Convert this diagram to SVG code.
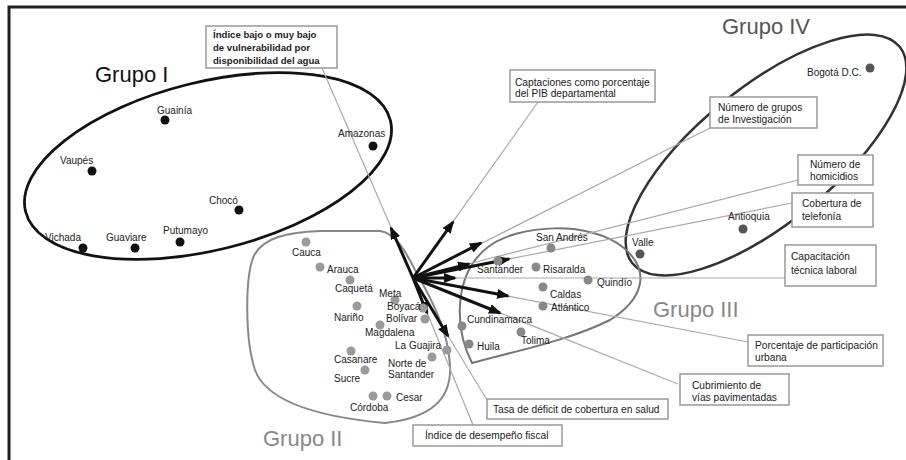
<svg xmlns="http://www.w3.org/2000/svg" width="906" height="460" viewBox="0 0 906 460">
<defs>
<marker id="ah" viewBox="0 0 13 10" markerWidth="13" markerHeight="10" refX="11" refY="5" orient="auto" markerUnits="userSpaceOnUse">
<path d="M0,0 L13,5 L0,10 z" fill="#111"/>
</marker>
<style>
text{font-family:"Liberation Sans",Arial,sans-serif;}
.lbl{font-size:10px;fill:#222;}
.bt{font-size:10.2px;fill:#222;}
.bx{fill:#fff;stroke:#999;stroke-width:1.5;}
.ld{stroke:#aaa;stroke-width:1.2;fill:none;}
.ar{stroke:#111;stroke-width:3;marker-end:url(#ah);}
.g1{fill:#111;}
.g2{fill:#9a9a9a;}
.g3{fill:#888;}
.g4{fill:#555;}
.grp{font-size:22px;}
</style>
</defs>
<rect width="906" height="460" fill="#fff"/>
<path d="M9,460 L9,7 L906,7" fill="none" stroke="#222" stroke-width="3"/>

<!-- group outlines -->
<g id="grupo1">
<ellipse cx="208" cy="166" rx="188" ry="84" transform="rotate(-14 208 166)" fill="none" stroke="#111" stroke-width="2.8"/>
<text class="grp" x="95" y="82" fill="#111">Grupo I</text>
</g>
<g id="grupo4">
<ellipse cx="766" cy="155" rx="172" ry="68" transform="rotate(-39 766 155)" fill="none" stroke="#333" stroke-width="2.5"/>
<text class="grp" x="722" y="34" fill="#555">Grupo IV</text>
</g>
<g id="grupo3">
<path d="M472,363 C455,330 452,275 488,247 C518,224 590,220 624,248 C652,272 642,300 610,320 C570,340 520,350 472,363 Z" fill="none" stroke="#777" stroke-width="2"/>
<text class="grp" x="653" y="317" fill="#888">Grupo III</text>
</g>
<g id="grupo2">
<path d="M385,423 C330,418 268,405 255,370 C245,340 245,280 253,258 C261,237 290,232 320,231 L380,231 C395,233 405,250 415,270 C432,300 448,330 450,365 C452,400 430,418 385,423 Z" fill="none" stroke="#888" stroke-width="2"/>
<text class="grp" x="263" y="446" fill="#888">Grupo II</text>
</g>

<!-- connectors -->
<g id="connectors">
<line class="ld" x1="413" y1="278" x2="322" y2="68"/>
<line class="ld" x1="413" y1="278" x2="538" y2="102"/>
<line class="ld" x1="413" y1="278" x2="710" y2="128"/>
<line class="ld" x1="413" y1="278" x2="798" y2="180"/>
<line class="ld" x1="413" y1="278" x2="792" y2="203"/>
<line class="ld" x1="413" y1="278" x2="785" y2="278"/>
<line class="ld" x1="413" y1="278" x2="748" y2="342"/>
<line class="ld" x1="413" y1="278" x2="678" y2="384"/>
<line class="ld" x1="413" y1="278" x2="487" y2="400"/>
<line class="ld" x1="413" y1="278" x2="473" y2="425"/>
<line class="ar" x1="413" y1="278" x2="391" y2="228"/>
<line class="ar" x1="413" y1="278" x2="453" y2="222"/>
<line class="ar" x1="413" y1="278" x2="481" y2="243"/>
<line class="ar" x1="413" y1="278" x2="469" y2="264"/>
<line class="ar" x1="413" y1="278" x2="509" y2="259"/>
<line class="ar" x1="413" y1="278" x2="455" y2="278"/>
<line class="ar" x1="413" y1="278" x2="508" y2="296"/>
<line class="ar" x1="413" y1="278" x2="500" y2="313"/>
<line class="ar" x1="413" y1="278" x2="448" y2="336"/>
<line class="ar" x1="413" y1="278" x2="427" y2="313"/>
</g>

<!-- Grupo I points -->
<g id="guainia"><circle class="g1" cx="165" cy="120" r="4.5"/><text class="lbl" x="157" y="114">Guainía</text></g>
<g id="amazonas"><circle class="g1" cx="373" cy="146" r="4.5"/><text class="lbl" x="338" y="137">Amazonas</text></g>
<g id="vaupes"><circle class="g1" cx="92" cy="171" r="4.5"/><text class="lbl" x="60" y="164">Vaupés</text></g>
<g id="choco"><circle class="g1" cx="239" cy="210" r="4.5"/><text class="lbl" x="209" y="204">Chocó</text></g>
<g id="vichada"><circle class="g1" cx="83" cy="248" r="4.5"/><text class="lbl" x="45" y="241">Vichada</text></g>
<g id="guaviare"><circle class="g1" cx="135" cy="248" r="4.5"/><text class="lbl" x="106" y="241">Guaviare</text></g>
<g id="putumayo"><circle class="g1" cx="180" cy="242" r="4.5"/><text class="lbl" x="163" y="234">Putumayo</text></g>

<!-- Grupo IV points -->
<g id="bogota"><circle class="g4" cx="870" cy="68" r="4.5"/><text class="lbl" x="807" y="76">Bogotá D.C.</text></g>
<g id="antioquia"><circle class="g4" cx="743" cy="229" r="4.5"/><text class="lbl" x="728" y="220">Antioquia</text></g>
<g id="valle"><circle class="g4" cx="640" cy="254" r="4.5"/><text class="lbl" x="632" y="246">Valle</text></g>

<!-- Grupo III points -->
<g id="sanandres"><circle class="g3" cx="551" cy="248" r="4.5"/><text class="lbl" x="536" y="241">San Andrés</text></g>
<g id="santander"><circle class="g3" cx="498" cy="261" r="4.5"/><text class="lbl" x="477" y="273">Santander</text></g>
<g id="risaralda"><circle class="g3" cx="536" cy="267" r="4.5"/><text class="lbl" x="543" y="273">Risaralda</text></g>
<g id="quindio"><circle class="g3" cx="588" cy="280" r="4.5"/><text class="lbl" x="597" y="286">Quindío</text></g>
<g id="caldas"><circle class="g3" cx="543" cy="287" r="4.5"/><text class="lbl" x="550" y="298">Caldas</text></g>
<g id="atlantico"><circle class="g3" cx="543" cy="306" r="4.5"/><text class="lbl" x="551" y="311">Atlántico</text></g>
<g id="cundinamarca"><circle class="g3" cx="462" cy="326" r="4.5"/><text class="lbl" x="467" y="323">Cundinamarca</text></g>
<g id="tolima"><circle class="g3" cx="521" cy="332" r="4.5"/><text class="lbl" x="521" y="344">Tolima</text></g>
<g id="huila"><circle class="g3" cx="469" cy="344" r="4.5"/><text class="lbl" x="477" y="350">Huila</text></g>

<!-- Grupo II points -->
<g id="cauca"><circle class="g2" cx="306" cy="242" r="4.5"/><text class="lbl" x="292" y="256">Cauca</text></g>
<g id="arauca"><circle class="g2" cx="320" cy="267" r="4.5"/><text class="lbl" x="327" y="273">Arauca</text></g>
<g id="caqueta"><circle class="g2" cx="350" cy="280" r="4.5"/><text class="lbl" x="335" y="292">Caquetá</text></g>
<g id="meta"><circle class="g2" cx="395" cy="300" r="4.5"/><text class="lbl" x="379" y="297">Meta</text></g>
<g id="boyaca"><circle class="g2" cx="423" cy="308" r="4.5"/><text class="lbl" x="387" y="310">Boyacá</text></g>
<g id="narino"><circle class="g2" cx="357" cy="306" r="4.5"/><text class="lbl" x="334" y="321">Nariño</text></g>
<g id="bolivar"><circle class="g2" cx="425" cy="319" r="4.5"/><text class="lbl" x="386" y="322">Bolívar</text></g>
<g id="magdalena"><circle class="g2" cx="380" cy="325" r="4.5"/><text class="lbl" x="365" y="336">Magdalena</text></g>
<g id="laguajira"><circle class="g2" cx="447" cy="350" r="4.5"/><text class="lbl" x="395" y="349">La Guajira</text></g>
<g id="casanare"><circle class="g2" cx="351" cy="351" r="4.5"/><text class="lbl" x="334" y="363">Casanare</text></g>
<g id="nortesantander"><circle class="g2" cx="432" cy="357" r="4.5"/><text class="lbl" x="388" y="367">Norte de</text><text class="lbl" x="388" y="378">Santander</text></g>
<g id="sucre"><circle class="g2" cx="365" cy="370" r="4.5"/><text class="lbl" x="334" y="382">Sucre</text></g>
<g id="cordoba"><circle class="g2" cx="373" cy="396" r="4.5"/><text class="lbl" x="350" y="411">Córdoba</text></g>
<g id="cesar"><circle class="g2" cx="387" cy="396" r="4.5"/><text class="lbl" x="396" y="401">Cesar</text></g>

<!-- label boxes -->
<g id="box-indice-bajo"><rect class="bx" x="206" y="26" width="131" height="42"/>
<text class="bt" x="213" y="38" font-weight="bold" style="font-size:9.6px">Índice bajo o muy bajo</text>
<text class="bt" x="213" y="51" font-weight="bold" style="font-size:9.6px">de vulnerabilidad por</text>
<text class="bt" x="213" y="64" font-weight="bold" style="font-size:9.6px">disponibilidad del agua</text></g>
<g id="box-captaciones"><rect class="bx" x="510" y="70" width="145" height="32"/>
<text class="bt" x="515" y="86">Captaciones como porcentaje</text>
<text class="bt" x="515" y="97">del PIB departamental</text></g>
<g id="box-grupos"><rect class="bx" x="710" y="97" width="107" height="31"/>
<text class="bt" x="718" y="111">Número de grupos</text>
<text class="bt" x="718" y="123">de Investigación</text></g>
<g id="box-homicidios"><rect class="bx" x="798" y="155" width="75" height="30"/>
<text class="bt" x="810" y="168">Número de</text>
<text class="bt" x="810" y="180">homicidios</text></g>
<g id="box-telefonia"><rect class="bx" x="792" y="193" width="81" height="34"/>
<text class="bt" x="802" y="207">Cobertura de</text>
<text class="bt" x="802" y="220">telefonía</text></g>
<g id="box-capacitacion"><rect class="bx" x="785" y="245" width="91" height="41"/>
<text class="bt" x="791" y="260">Capacitación</text>
<text class="bt" x="791" y="274">técnica laboral</text></g>
<g id="box-urbana"><rect class="bx" x="748" y="335" width="135" height="31"/>
<text class="bt" x="755" y="349">Porcentaje de participación</text>
<text class="bt" x="755" y="361">urbana</text></g>
<g id="box-vias"><rect class="bx" x="680" y="374" width="109" height="31"/>
<text class="bt" x="692" y="389">Cubrimiento de</text>
<text class="bt" x="692" y="401">vías pavimentadas</text></g>
<g id="box-salud"><rect class="bx" x="487" y="399" width="181" height="20"/>
<text class="bt" x="493" y="413">Tasa de déficit de cobertura en salud</text></g>
<g id="box-fiscal"><rect class="bx" x="413" y="425" width="149" height="21"/>
<text class="bt" x="425" y="439">Índice de desempeño fiscal</text></g>
</svg>
